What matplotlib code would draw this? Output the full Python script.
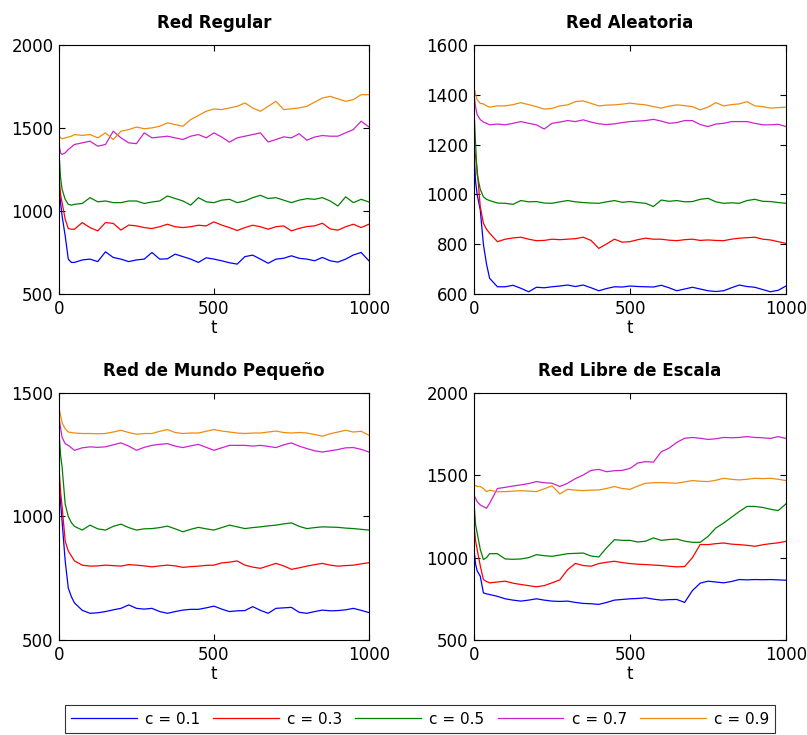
import numpy as np
import matplotlib
matplotlib.use("Agg")
import matplotlib.pyplot as plt

plt.rcParams['font.family'] = ['DejaVu Sans']

# time samples
t = [0, 5, 10, 20, 30, 40, 50, 75, 100, 125, 150, 175, 200, 225, 250, 275, 300, 325, 350, 375,
     400, 425, 450, 475, 500, 525, 550, 575, 600, 625, 650, 675, 700, 725, 750, 775, 800, 825,
     850, 875, 900, 925, 950, 975, 1000]

labels = ["c = 0.1", "c = 0.3", "c = 0.5", "c = 0.7", "c = 0.9"]
colors = ["#0000ff", "#ff0000", "#008000", "#cc22cc", "#ee8c10"]

titles = ["Red Regular", "Red Aleatoria", "Red de Mundo Pequeño", "Red Libre de Escala"]

# Red Regular
reg_01 = [1150, 1050, 970, 850, 710, 690, 690, 705, 710, 695, 754, 720, 710, 695, 705, 710, 750, 710, 712, 740,
          725, 710, 690, 718, 710, 700, 688, 680, 725, 734, 710, 685, 710, 715, 730, 715, 710, 700, 720, 700,
          692, 710, 735, 750, 700]
reg_03 = [1210, 1100, 1050, 950, 894, 890, 890, 930, 900, 880, 930, 925, 885, 915, 910, 900, 894, 905, 920, 905,
          900, 905, 914, 910, 934, 915, 900, 882, 900, 914, 905, 890, 905, 910, 880, 895, 906, 910, 926, 892,
          884, 905, 920, 900, 920]
reg_05 = [1354, 1200, 1130, 1070, 1040, 1035, 1040, 1045, 1080, 1055, 1060, 1050, 1050, 1060, 1060, 1045, 1054, 1060,
          1090, 1075, 1060, 1035, 1080, 1055, 1050, 1065, 1070, 1050, 1060, 1080, 1094, 1075, 1080, 1065, 1050,
          1065, 1074, 1070, 1080, 1060, 1030, 1085, 1050, 1070, 1054]
reg_07 = [1400, 1350, 1340, 1350, 1370, 1385, 1400, 1410, 1420, 1390, 1400, 1480, 1440, 1410, 1405, 1470, 1440, 1445,
          1450, 1440, 1430, 1450, 1460, 1440, 1470, 1445, 1414, 1440, 1450, 1460, 1470, 1415, 1430, 1446, 1440,
          1465, 1426, 1445, 1454, 1450, 1450, 1470, 1490, 1540, 1506]
reg_09 = [1454, 1440, 1435, 1440, 1445, 1450, 1460, 1455, 1460, 1440, 1470, 1430, 1480, 1490, 1505, 1495, 1500, 1510,
          1530, 1520, 1510, 1550, 1575, 1600, 1614, 1610, 1620, 1630, 1650, 1620, 1600, 1630, 1660, 1610, 1615,
          1620, 1630, 1655, 1680, 1690, 1675, 1660, 1670, 1700, 1700]

# Red Aleatoria
ale_01 = [1170, 1050, 1000, 937, 800, 720, 663, 629, 629, 635, 623, 609, 627, 625, 629, 632, 636, 630, 636, 625,
          613, 622, 629, 628, 632, 630, 629, 628, 635, 625, 613, 620, 627, 620, 613, 610, 613, 625, 636, 630,
          627, 618, 609, 615, 632]
ale_03 = [1200, 1150, 1100, 950, 884, 860, 844, 810, 820, 825, 828, 820, 814, 815, 820, 818, 820, 822, 828, 815,
          783, 801, 820, 808, 810, 818, 824, 820, 820, 816, 814, 818, 820, 815, 817, 815, 814, 820, 824, 826,
          828, 820, 817, 810, 803]
ale_05 = [1340, 1200, 1080, 1020, 990, 980, 975, 965, 964, 960, 975, 970, 971, 965, 964, 970, 975, 970, 967, 965,
          964, 970, 975, 968, 971, 967, 964, 951, 977, 972, 975, 970, 971, 980, 984, 970, 964, 966, 964, 975,
          980, 972, 971, 967, 964]
ale_07 = [1400, 1350, 1320, 1300, 1290, 1285, 1279, 1282, 1279, 1285, 1292, 1285, 1279, 1262, 1285, 1290, 1296, 1292,
          1299, 1290, 1283, 1280, 1283, 1288, 1292, 1294, 1296, 1301, 1294, 1285, 1288, 1296, 1296, 1280, 1272,
          1282, 1285, 1292, 1292, 1292, 1285, 1279, 1279, 1281, 1272]
ale_09 = [1430, 1400, 1380, 1365, 1363, 1355, 1350, 1355, 1355, 1360, 1368, 1360, 1352, 1342, 1345, 1355, 1359, 1372,
          1375, 1365, 1355, 1358, 1359, 1362, 1366, 1362, 1359, 1352, 1346, 1354, 1359, 1356, 1352, 1339, 1350,
          1368, 1355, 1360, 1363, 1372, 1355, 1352, 1346, 1348, 1350]

# Red de Mundo Pequeño
mun_01 = [1150, 1060, 980, 820, 710, 675, 650, 620, 608, 610, 615, 622, 628, 642, 628, 625, 628, 615, 608, 615,
          621, 624, 624, 630, 637, 625, 615, 618, 619, 635, 620, 608, 628, 630, 632, 612, 608, 615, 621, 618,
          619, 622, 628, 620, 611]
mun_03 = [1200, 1100, 1040, 900, 860, 840, 820, 803, 799, 800, 803, 801, 799, 805, 803, 800, 796, 800, 803, 800,
          794, 797, 799, 802, 803, 812, 815, 820, 803, 795, 790, 800, 810, 800, 786, 792, 799, 805, 810, 803,
          799, 801, 803, 808, 813]
mun_05 = [1340, 1250, 1200, 1050, 1000, 975, 960, 945, 965, 950, 945, 960, 969, 955, 945, 950, 951, 955, 961, 950,
          938, 948, 956, 950, 945, 955, 965, 958, 951, 955, 958, 962, 965, 970, 974, 960, 951, 955, 958, 957,
          956, 953, 951, 948, 945]
mun_07 = [1400, 1360, 1320, 1295, 1288, 1278, 1268, 1278, 1282, 1280, 1282, 1290, 1298, 1285, 1268, 1280, 1288, 1292,
          1295, 1285, 1279, 1286, 1292, 1280, 1268, 1278, 1288, 1288, 1288, 1285, 1288, 1284, 1279, 1290, 1298,
          1285, 1275, 1266, 1261, 1266, 1271, 1278, 1279, 1272, 1261]
mun_09 = [1440, 1410, 1380, 1355, 1342, 1340, 1338, 1336, 1336, 1335, 1336, 1342, 1349, 1340, 1333, 1336, 1336, 1345,
          1352, 1340, 1336, 1338, 1338, 1345, 1352, 1346, 1342, 1338, 1336, 1338, 1338, 1342, 1346, 1340, 1338,
          1340, 1338, 1332, 1325, 1335, 1342, 1349, 1342, 1345, 1329]

# Red Libre de Escala
lib_01 = [1050, 960, 920, 887, 786, 780, 776, 765, 750, 742, 736, 742, 750, 742, 736, 734, 736, 728, 722, 720,
          716, 728, 742, 746, 750, 752, 756, 748, 742, 745, 746, 728, 800, 845, 857, 852, 847, 855, 867, 865,
          867, 866, 867, 865, 863]
lib_03 = [1200, 1100, 1050, 950, 867, 855, 847, 852, 857, 845, 837, 830, 823, 830, 847, 865, 927, 965, 952, 948,
          964, 972, 978, 970, 964, 960, 958, 955, 952, 948, 944, 946, 1000, 1080, 1079, 1085, 1089, 1082, 1079,
          1075, 1069, 1078, 1085, 1090, 1099]
lib_05 = [1330, 1200, 1150, 1050, 988, 1000, 1024, 1024, 992, 990, 992, 1000, 1018, 1012, 1008, 1016, 1024, 1026,
          1028, 1010, 1004, 1060, 1109, 1105, 1105, 1095, 1100, 1120, 1105, 1110, 1113, 1100, 1093, 1093, 1129,
          1180, 1210, 1245, 1280, 1311, 1311, 1305, 1294, 1286, 1327]
lib_07 = [1380, 1360, 1340, 1320, 1310, 1300, 1330, 1420, 1427, 1435, 1442, 1450, 1462, 1455, 1452, 1432, 1452, 1480,
          1502, 1530, 1536, 1522, 1528, 1530, 1542, 1575, 1583, 1580, 1643, 1665, 1700, 1725, 1730, 1725, 1718,
          1722, 1730, 1728, 1730, 1735, 1730, 1728, 1724, 1735, 1724]
lib_09 = [1442, 1438, 1432, 1432, 1420, 1401, 1410, 1400, 1401, 1404, 1407, 1404, 1401, 1418, 1436, 1387, 1415, 1410,
          1407, 1410, 1411, 1420, 1432, 1420, 1415, 1435, 1452, 1455, 1456, 1454, 1452, 1460, 1468, 1464, 1462,
          1470, 1482, 1476, 1472, 1476, 1482, 1480, 1482, 1476, 1468]

panels = [
    [reg_01, reg_03, reg_05, reg_07, reg_09],
    [ale_01, ale_03, ale_05, ale_07, ale_09],
    [mun_01, mun_03, mun_05, mun_07, mun_09],
    [lib_01, lib_03, lib_05, lib_07, lib_09],
]
ylims = [(500, 2000), (600, 1600), (500, 1500), (500, 2000)]
yticks = [[500, 1000, 1500, 2000], [600, 800, 1000, 1200, 1400, 1600], [500, 1000, 1500], [500, 1000, 1500, 2000]]

# axes boxes in figure fractions [left, bottom, width, height]
boxes = [
    [0.0731, 0.600, 0.384, 0.339],
    [0.5874, 0.600, 0.3866, 0.339],
    [0.0731, 0.1293, 0.384, 0.336],
    [0.5874, 0.1293, 0.3866, 0.336],
]

fig = plt.figure(figsize=(8.07, 7.35), dpi=100)

lines = []
for k in range(4):
    ax = fig.add_axes(boxes[k])
    for i in range(5):
        ln, = ax.plot(t, panels[k][i], color=colors[i], lw=0.9, label=labels[i])
        if k == 0:
            lines.append(ln)
    ax.set_xlim(0, 1000)
    ax.set_ylim(*ylims[k])
    ax.set_xticks([0, 500, 1000])
    ax.set_yticks(yticks[k])
    ax.tick_params(direction="in", top=True, right=True, length=4, width=0.8, labelsize=12, pad=4)
    ax.set_xlabel("t", fontsize=12, labelpad=1)
    ax.set_title(titles[k], fontsize=12, fontweight="bold", pad=12)
    for s in ax.spines.values():
        s.set_linewidth(0.8)

leg = fig.legend(handles=lines, labels=labels, loc="center", bbox_to_anchor=(420 / 807, 1 - 719 / 735),
                 ncol=5, fontsize=11, frameon=True, fancybox=False, handlelength=4.3,
                 handletextpad=0.55, columnspacing=0.85, borderpad=0.4, borderaxespad=0)
leg.get_frame().set_edgecolor("black")
leg.get_frame().set_linewidth(0.8)

fig.savefig("out.png", dpi=100)
